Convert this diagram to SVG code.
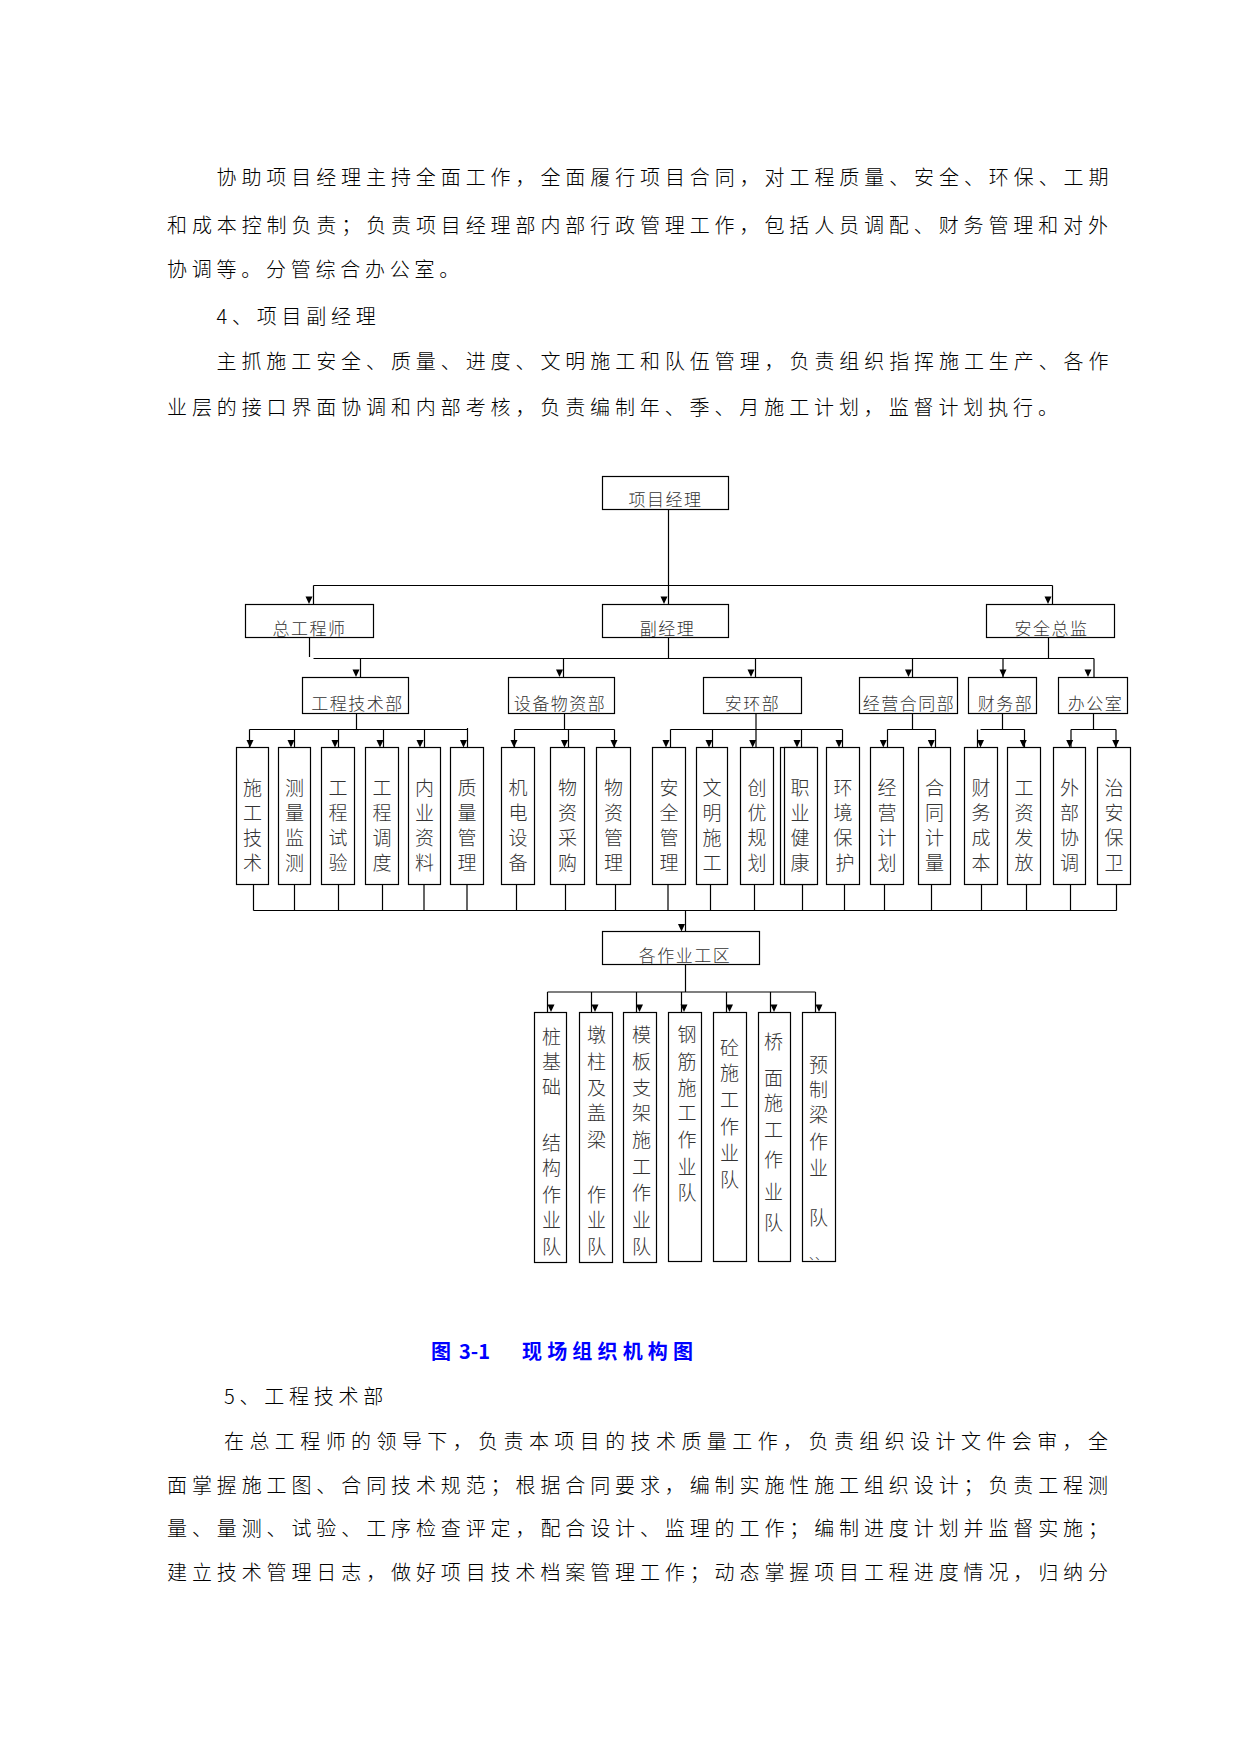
<svg xmlns="http://www.w3.org/2000/svg" xmlns:xlink="http://www.w3.org/1999/xlink" width="1241" height="1754" viewBox="0 0 1241 1754">
<style>
.bg{fill:#fff}
.box{fill:#fff;stroke:#000;stroke-width:1.2}
.ln{fill:none;stroke:#000;stroke-width:1.2}
.ah{fill:#000}
text{font-family:"Noto Sans CJK SC","Noto Sans CJK JP",sans-serif;font-weight:300}
.p{font-size:20px;fill:#000}
.lbl{font-size:17px;fill:#333;text-anchor:middle;letter-spacing:1.5px}
.v{font-size:19px;fill:#333;text-anchor:middle}
.cap{font-size:20px;fill:#0000ff;font-weight:700}
</style>
<defs>
<path id="ah" d="M-3.5 -7.5H3.5L0 0Z"/>
</defs>
<rect class="bg" x="0" y="0" width="1241" height="1754"/>

<g id="para-top">
<text class="p" x="216.5" y="185" textLength="892" lengthAdjust="spacing">协助项目经理主持全面工作，全面履行项目合同，对工程质量、安全、环保、工期</text>
<text class="p" x="167" y="232.5" textLength="941" lengthAdjust="spacing">和成本控制负责；负责项目经理部内部行政管理工作，包括人员调配、财务管理和对外</text>
<text class="p" x="167" y="276.5" style="letter-spacing:4.75px">协调等。分管综合办公室。</text>
<text class="p" x="216.5" y="324" style="letter-spacing:4.75px">4、项目副经理</text>
<text class="p" x="216.5" y="369" textLength="892" lengthAdjust="spacing">主抓施工安全、质量、进度、文明施工和队伍管理，负责组织指挥施工生产、各作</text>
<text class="p" x="167" y="414.5" textLength="891" lengthAdjust="spacing">业层的接口界面协调和内部考核，负责编制年、季、月施工计划，监督计划执行。</text>
</g>

<g id="connectors">
<path class="ln" d="M668.5 509V604M313.5 585.5H1052.5M313.5 585.5V604M1052.5 585.5V604"/>
<path class="ln" d="M309.5 637V657M668.5 637V658.5M1048.5 637V658.5M313.5 658.5H1094M360.5 658.5V677M563.5 658.5V677M755.5 658.5V677M912.5 658.5V677M1003 658.5V677M1094 658.5V677"/>
<path class="ln" d="M356.5 713V729.5M249.5 729.5H467.5M249.5 729.5V747.5M294.5 729.5V747.5M338.5 729.5V747.5M383.5 729.5V747.5M424.5 729.5V747.5M467.5 728V747.5"/>
<path class="ln" d="M564.5 713V729.5M514.5 729.5H614.5M514.5 729.5V747.5M568.5 729.5V747.5M614.5 729.5V747.5"/>
<path class="ln" d="M756 713V747.5M670.5 729.5H842.5M670.5 729.5V747.5M712.5 729.5V747.5M801.5 729.5V747.5M842.5 729.5V747.5"/>
<path class="ln" d="M912.5 713V729.5M887.5 729.5H935.5M887.5 729.5V747.5M935.5 729.5V747.5"/>
<path class="ln" d="M1002.5 713V729.5M980.5 729.5H1024.5M977.5 729.5V747.5M1024.5 729.5V747.5"/>
<path class="ln" d="M1093.5 713V729.5M1071 729.5H1116M1071 729.5V747.5M1116 729.5V747.5"/>
<path class="ln" d="M253.5 884.5V910.5M294.5 884.5V910.5M338.5 884.5V910.5M382.5 884.5V910.5M424 884.5V910.5M467 884.5V910.5M516.5 884.5V910.5M565.5 884.5V910.5M615.5 884.5V910.5M668 884.5V910.5M710.5 884.5V910.5M754.5 884.5V910.5M802.5 884.5V910.5M844.5 884.5V910.5M884.5 884.5V910.5M931.5 884.5V910.5M981.5 884.5V910.5M1026.5 884.5V910.5M1070.5 884.5V910.5M1116.5 884.5V910.5M253.5 910.5H1116.5M685.5 910.5V931.5"/>
<path class="ln" d="M685.5 964.5V992M547.5 992H815.5M547.5 992V1012M591.5 992V1012M636.5 992V1012M681.5 992V1012M726.5 992V1012M770.5 992V1012M815.5 992V1012"/>
<g class="ah">
<use xlink:href="#ah" x="309" y="604"/><use xlink:href="#ah" x="664" y="604"/><use xlink:href="#ah" x="1048" y="604"/>
<use xlink:href="#ah" x="356" y="677"/><use xlink:href="#ah" x="559.5" y="677"/><use xlink:href="#ah" x="751" y="677"/><use xlink:href="#ah" x="908.5" y="677"/><use xlink:href="#ah" x="1003" y="677"/><use xlink:href="#ah" x="1088" y="677"/>
<use xlink:href="#ah" x="250" y="747.5"/><use xlink:href="#ah" x="291" y="747.5"/><use xlink:href="#ah" x="335" y="747.5"/><use xlink:href="#ah" x="380" y="747.5"/><use xlink:href="#ah" x="420" y="747.5"/><use xlink:href="#ah" x="463.5" y="747.5"/>
<use xlink:href="#ah" x="514" y="747.5"/><use xlink:href="#ah" x="564.5" y="747.5"/><use xlink:href="#ah" x="614" y="747.5"/>
<use xlink:href="#ah" x="666" y="747.5"/><use xlink:href="#ah" x="709" y="747.5"/><use xlink:href="#ah" x="752.7" y="747.5"/><use xlink:href="#ah" x="797" y="747.5"/><use xlink:href="#ah" x="839" y="747.5"/>
<use xlink:href="#ah" x="883.3" y="747.5"/><use xlink:href="#ah" x="931.3" y="747.5"/>
<use xlink:href="#ah" x="980.5" y="747.5"/><use xlink:href="#ah" x="1023.3" y="747.5"/>
<use xlink:href="#ah" x="1069.7" y="747.5"/><use xlink:href="#ah" x="1115.7" y="747.5"/>
<use xlink:href="#ah" x="681.5" y="931.5"/>
<use xlink:href="#ah" x="551" y="1012"/><use xlink:href="#ah" x="595" y="1012"/><use xlink:href="#ah" x="639.5" y="1012"/><use xlink:href="#ah" x="684" y="1012"/><use xlink:href="#ah" x="729.5" y="1012"/><use xlink:href="#ah" x="774" y="1012"/><use xlink:href="#ah" x="819" y="1012"/>
</g>
</g>

<g id="n-xmjl"><rect class="box" x="602.5" y="476.5" width="126" height="33"/><text class="lbl" x="665.5" y="506">项目经理</text></g>
<g id="n-zgcs"><rect class="box" x="245.5" y="604.5" width="128" height="33"/><text class="lbl" x="309.5" y="635">总工程师</text></g>
<g id="n-fjl"><rect class="box" x="602.5" y="604.5" width="126" height="33"/><text class="lbl" x="667.5" y="635">副经理</text></g>
<g id="n-aqzj"><rect class="box" x="986.5" y="604.5" width="128" height="33"/><text class="lbl" x="1051.5" y="635">安全总监</text></g>

<g id="n-gcjsb"><rect class="box" x="302.5" y="677.5" width="106" height="36"/><text class="lbl" x="357.5" y="710">工程技术部</text></g>
<g id="n-sbwzb"><rect class="box" x="508.5" y="677.5" width="106" height="36"/><text class="lbl" x="560" y="710">设备物资部</text></g>
<g id="n-ahb"><rect class="box" x="703.5" y="677.5" width="98" height="36"/><text class="lbl" x="752.5" y="710">安环部</text></g>
<g id="n-jyhtb"><rect class="box" x="859.5" y="677.5" width="98" height="36"/><text class="lbl" x="909" y="710">经营合同部</text></g>
<g id="n-cwb"><rect class="box" x="968.5" y="677.5" width="68" height="36"/><text class="lbl" x="1005.5" y="710">财务部</text></g>
<g id="n-bgs"><rect class="box" x="1058.5" y="677.5" width="69" height="36"/><text class="lbl" x="1095.5" y="710">办公室</text></g>

<g id="n-sgjs"><rect class="box" x="236.5" y="747.5" width="32" height="137"/><text class="v"><tspan x="252.5" y="795">施</tspan><tspan x="252.5" y="820">工</tspan><tspan x="252.5" y="845">技</tspan><tspan x="252.5" y="870">术</tspan></text></g>
<g id="n-cljc"><rect class="box" x="278.5" y="747.5" width="32" height="137"/><text class="v"><tspan x="294.5" y="795">测</tspan><tspan x="294.5" y="820">量</tspan><tspan x="294.5" y="845">监</tspan><tspan x="294.5" y="870">测</tspan></text></g>
<g id="n-gcsy"><rect class="box" x="321.5" y="747.5" width="33" height="137"/><text class="v"><tspan x="338" y="795">工</tspan><tspan x="338" y="820">程</tspan><tspan x="338" y="845">试</tspan><tspan x="338" y="870">验</tspan></text></g>
<g id="n-gcdd"><rect class="box" x="365.5" y="747.5" width="33" height="137"/><text class="v"><tspan x="382" y="795">工</tspan><tspan x="382" y="820">程</tspan><tspan x="382" y="845">调</tspan><tspan x="382" y="870">度</tspan></text></g>
<g id="n-nyzl"><rect class="box" x="408.5" y="747.5" width="32" height="137"/><text class="v"><tspan x="424.5" y="795">内</tspan><tspan x="424.5" y="820">业</tspan><tspan x="424.5" y="845">资</tspan><tspan x="424.5" y="870">料</tspan></text></g>
<g id="n-zlgl"><rect class="box" x="450.5" y="747.5" width="33" height="137"/><text class="v"><tspan x="467" y="795">质</tspan><tspan x="467" y="820">量</tspan><tspan x="467" y="845">管</tspan><tspan x="467" y="870">理</tspan></text></g>
<g id="n-jdsb"><rect class="box" x="501.5" y="747.5" width="33" height="137"/><text class="v"><tspan x="518" y="795">机</tspan><tspan x="518" y="820">电</tspan><tspan x="518" y="845">设</tspan><tspan x="518" y="870">备</tspan></text></g>
<g id="n-wzcg"><rect class="box" x="550.5" y="747.5" width="34" height="137"/><text class="v"><tspan x="567.5" y="795">物</tspan><tspan x="567.5" y="820">资</tspan><tspan x="567.5" y="845">采</tspan><tspan x="567.5" y="870">购</tspan></text></g>
<g id="n-wzgl"><rect class="box" x="596.5" y="747.5" width="34" height="137"/><text class="v"><tspan x="613.5" y="795">物</tspan><tspan x="613.5" y="820">资</tspan><tspan x="613.5" y="845">管</tspan><tspan x="613.5" y="870">理</tspan></text></g>
<g id="n-aqgl"><rect class="box" x="652.5" y="747.5" width="33" height="137"/><text class="v"><tspan x="669" y="795">安</tspan><tspan x="669" y="820">全</tspan><tspan x="669" y="845">管</tspan><tspan x="669" y="870">理</tspan></text></g>
<g id="n-wmsg"><rect class="box" x="696.5" y="747.5" width="31" height="137"/><text class="v"><tspan x="712" y="795">文</tspan><tspan x="712" y="820">明</tspan><tspan x="712" y="845">施</tspan><tspan x="712" y="870">工</tspan></text></g>
<g id="n-cygh"><rect class="box" x="740.5" y="747.5" width="33" height="137"/><text class="v"><tspan x="757" y="795">创</tspan><tspan x="757" y="820">优</tspan><tspan x="757" y="845">规</tspan><tspan x="757" y="870">划</tspan></text></g>
<g id="n-zyjk"><rect class="box" x="780.5" y="747.5" width="34" height="137"/><rect class="box" x="784.5" y="747.5" width="33" height="137"/><text class="v"><tspan x="800" y="795">职</tspan><tspan x="800" y="820">业</tspan><tspan x="800" y="845">健</tspan><tspan x="800" y="870">康</tspan></text></g>
<g id="n-hjbh"><rect class="box" x="826.5" y="747.5" width="33" height="137"/><text class="v"><tspan x="843" y="795">环</tspan><tspan x="843" y="820">境</tspan><tspan x="843" y="845">保</tspan><tspan x="845" y="870">护</tspan></text></g>
<g id="n-jyjh"><rect class="box" x="870.5" y="747.5" width="33" height="137"/><text class="v"><tspan x="887" y="795">经</tspan><tspan x="887" y="820">营</tspan><tspan x="887" y="845">计</tspan><tspan x="887" y="870">划</tspan></text></g>
<g id="n-htjl"><rect class="box" x="918.5" y="747.5" width="32" height="137"/><text class="v"><tspan x="934.5" y="795">合</tspan><tspan x="934.5" y="820">同</tspan><tspan x="934.5" y="845">计</tspan><tspan x="934.5" y="870">量</tspan></text></g>
<g id="n-cwcb"><rect class="box" x="964.5" y="747.5" width="33" height="137"/><text class="v"><tspan x="981" y="795">财</tspan><tspan x="981" y="820">务</tspan><tspan x="981" y="845">成</tspan><tspan x="981" y="870">本</tspan></text></g>
<g id="n-gzff"><rect class="box" x="1007.5" y="747.5" width="33" height="137"/><text class="v"><tspan x="1024" y="795">工</tspan><tspan x="1024" y="820">资</tspan><tspan x="1024" y="845">发</tspan><tspan x="1024" y="870">放</tspan></text></g>
<g id="n-wbxt"><rect class="box" x="1053.5" y="747.5" width="32" height="137"/><text class="v"><tspan x="1069.5" y="795">外</tspan><tspan x="1069.5" y="820">部</tspan><tspan x="1069.5" y="845">协</tspan><tspan x="1069.5" y="870">调</tspan></text></g>
<g id="n-zabw"><rect class="box" x="1097.5" y="747.5" width="33" height="137"/><text class="v"><tspan x="1114" y="795">治</tspan><tspan x="1114" y="820">安</tspan><tspan x="1114" y="845">保</tspan><tspan x="1114" y="870">卫</tspan></text></g>

<g id="n-gzygq"><rect class="box" x="602.5" y="931.5" width="157" height="33"/><text class="lbl" x="685" y="962">各作业工区</text></g>

<g id="n-zjc"><rect class="box" x="534.5" y="1012.5" width="32" height="250"/><text class="v"><tspan x="551.5" y="1043.5">桩</tspan><tspan x="551.5" y="1068.5">基</tspan><tspan x="551.5" y="1093.5">础</tspan><tspan x="551.5" y="1149.5">结</tspan><tspan x="551.5" y="1175">构</tspan><tspan x="551.5" y="1202">作</tspan><tspan x="551.5" y="1227">业</tspan><tspan x="551.5" y="1253.5">队</tspan></text></g>
<g id="n-dzgl"><rect class="box" x="579.5" y="1012.5" width="33" height="250"/><text class="v"><tspan x="596.5" y="1042">墩</tspan><tspan x="596.5" y="1068.5">柱</tspan><tspan x="596.5" y="1095">及</tspan><tspan x="596.5" y="1120">盖</tspan><tspan x="596.5" y="1147">梁</tspan><tspan x="596.5" y="1202">作</tspan><tspan x="596.5" y="1227">业</tspan><tspan x="596.5" y="1253.5">队</tspan></text></g>
<g id="n-mbzj"><rect class="box" x="623.5" y="1012.5" width="33" height="250"/><text class="v"><tspan x="641.5" y="1042">模</tspan><tspan x="641.5" y="1068.5">板</tspan><tspan x="641.5" y="1095">支</tspan><tspan x="641.5" y="1120">架</tspan><tspan x="641.5" y="1147">施</tspan><tspan x="641.5" y="1173.5">工</tspan><tspan x="641.5" y="1200">作</tspan><tspan x="641.5" y="1227">业</tspan><tspan x="641.5" y="1253.5">队</tspan></text></g>
<g id="n-gjsg"><rect class="box" x="668.5" y="1012.5" width="33" height="249"/><text class="v"><tspan x="687" y="1042">钢</tspan><tspan x="687" y="1068.5">筋</tspan><tspan x="687" y="1095">施</tspan><tspan x="687" y="1120">工</tspan><tspan x="687" y="1147">作</tspan><tspan x="687" y="1173.5">业</tspan><tspan x="687" y="1200">队</tspan></text></g>
<g id="n-tsg"><rect class="box" x="713.5" y="1012.5" width="33" height="249"/><text class="v"><tspan x="729.5" y="1055">砼</tspan><tspan x="729.5" y="1080">施</tspan><tspan x="729.5" y="1107">工</tspan><tspan x="729.5" y="1133.5">作</tspan><tspan x="729.5" y="1160">业</tspan><tspan x="729.5" y="1187">队</tspan></text></g>
<g id="n-qmsg"><rect class="box" x="758.5" y="1012.5" width="32" height="249"/><text class="v"><tspan x="773.5" y="1048.5">桥</tspan><tspan x="773.5" y="1085">面</tspan><tspan x="773.5" y="1110">施</tspan><tspan x="773.5" y="1137">工</tspan><tspan x="773.5" y="1167">作</tspan><tspan x="773.5" y="1198.5">业</tspan><tspan x="773.5" y="1230">队</tspan></text></g>
<g id="n-yzl"><rect class="box" x="802.5" y="1012.5" width="33" height="249"/><text class="v"><tspan x="818.5" y="1072">预</tspan><tspan x="818.5" y="1097">制</tspan><tspan x="818.5" y="1122">梁</tspan><tspan x="818.5" y="1148.5">作</tspan><tspan x="818.5" y="1175">业</tspan><tspan x="818.5" y="1225">队</tspan></text><text style="font-size:12px;fill:#333" x="809" y="1260">、、</text></g>

<g id="caption">
<text class="cap" x="431" y="1359">图</text>
<text class="cap" x="459" y="1359">3-1</text>
<text class="cap" x="522" y="1359" textLength="171" lengthAdjust="spacing">现场组织机构图</text>
</g>

<g id="para-bottom">
<text class="p" x="224" y="1404" style="letter-spacing:4.75px">5、工程技术部</text>
<text class="p" x="224" y="1448.5" textLength="884" lengthAdjust="spacing">在总工程师的领导下，负责本项目的技术质量工作，负责组织设计文件会审，全</text>
<text class="p" x="167" y="1492.5" textLength="941" lengthAdjust="spacing">面掌握施工图、合同技术规范；根据合同要求，编制实施性施工组织设计；负责工程测</text>
<text class="p" x="167" y="1536" textLength="941" lengthAdjust="spacing">量、量测、试验、工序检查评定，配合设计、监理的工作；编制进度计划并监督实施；</text>
<text class="p" x="167" y="1579.5" textLength="941" lengthAdjust="spacing">建立技术管理日志，做好项目技术档案管理工作；动态掌握项目工程进度情况，归纳分</text>
</g>
</svg>
